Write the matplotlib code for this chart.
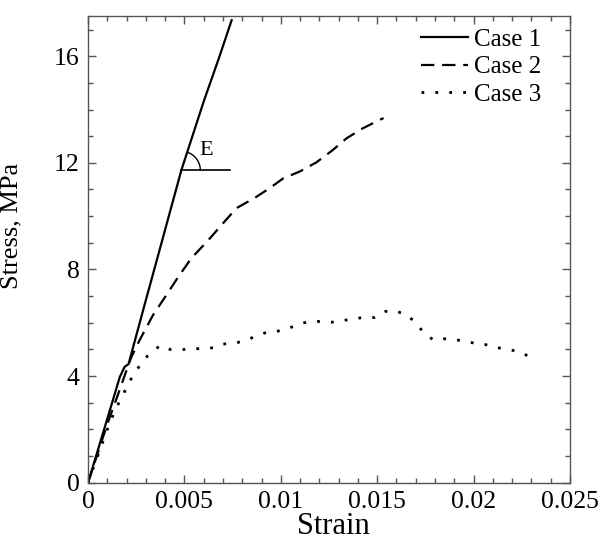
import numpy as np
import matplotlib
matplotlib.use('Agg')
import matplotlib.pyplot as plt
from matplotlib.ticker import MultipleLocator, FuncFormatter

plt.rcParams['font.family'] = ['Liberation Serif', 'DejaVu Serif']

# Data
case1_x = [0, 0.0005, 0.0010, 0.00165, 0.0019, 0.0021, 0.0030, 0.0037,
           0.00484, 0.0060, 0.0068, 0.00745]
case1_y = [0, 1.2, 2.4, 3.97, 4.35, 4.45, 6.85, 8.7, 11.72, 14.3, 15.95, 17.35]

case2_x = [0, 0.0005, 0.0010, 0.0015, 0.00187, 0.00224, 0.0026, 0.00286, 0.00338,
           0.0040, 0.00468, 0.00537, 0.00624, 0.0070, 0.0077, 0.00868, 0.0094,
           0.01013, 0.0110, 0.01185, 0.01268, 0.01341, 0.01424, 0.01507, 0.01533]
case2_y = [0, 1.1, 2.2, 3.2, 3.96, 4.7, 5.24, 5.6, 6.3, 6.97, 7.72, 8.43, 9.1,
           9.73, 10.3, 10.7, 11.04, 11.42, 11.68, 12.02, 12.47, 12.92, 13.29,
           13.59, 13.68]

case3_x = [0, 0.0005, 0.0010, 0.00146, 0.00177, 0.00203, 0.00234, 0.00275, 0.0031,
           0.00374, 0.00426, 0.00483, 0.0054, 0.0060, 0.0065, 0.0070, 0.00764,
           0.00816, 0.0087, 0.0093, 0.0098, 0.0104, 0.0110, 0.01154, 0.0121,
           0.01263, 0.0132, 0.01377, 0.0143, 0.01487, 0.01544, 0.01596, 0.01653,
           0.01694, 0.01736, 0.01788, 0.01845, 0.01897, 0.01954, 0.02011, 0.02063,
           0.02120, 0.02178, 0.02235, 0.02287]
case3_y = [0, 1.0, 2.0, 2.82, 3.2, 3.65, 4.02, 4.47, 4.77, 5.15, 5.0, 5.0, 5.0,
           5.06, 5.06, 5.2, 5.24, 5.33, 5.5, 5.65, 5.68, 5.79, 5.97, 6.05, 6.05,
           6.02, 6.08, 6.15, 6.2, 6.2, 6.43, 6.44, 6.3, 6.04, 5.68, 5.37, 5.4,
           5.38, 5.3, 5.23, 5.18, 5.07, 5.0, 4.92, 4.74]

labels = ['Case 1', 'Case 2', 'Case 3']

# modulus marker
E_x0, E_x1, E_y = 0.00484, 0.00736, 11.72

fig = plt.figure(figsize=(6, 5.4), dpi=100)
ax = fig.add_axes([0.1467, 0.106, 0.8033, 0.864])

ax.plot(case1_x, case1_y, color='black', lw=1.6, label=labels[0])
ax.plot(case2_x, case2_y, color='black', lw=1.6, dashes=(6, 3.5), label=labels[1])
ax.plot(case3_x, case3_y, color='black', lw=2.0, dashes=(1, 4), label=labels[2])

xmin, xmax, ymin, ymax = 0, 0.025, 0, 17.5
ax.set_xlim(xmin, xmax)
ax.set_ylim(ymin, ymax)

# E annotation: horizontal line, arc, letter
ax.plot([E_x0, E_x1], [E_y, E_y], color='black', lw=1.2)
ax_w = 0.8033 * 600
ax_h = 0.864 * 540
px_x = ax_w / (xmax - xmin)
px_y = ax_h / (ymax - ymin)
r = 19
ang = np.degrees(np.arctan2((case1_y[-1] - E_y) * px_y, (case1_x[-1] - E_x0) * px_x))
t = np.radians(np.linspace(0, ang, 40))
ax.plot(E_x0 + r / px_x * np.cos(t), E_y + r / px_y * np.sin(t), color='black', lw=1.0)
ax.text(0.00614, 12.45, 'E', fontsize=16, ha='center', va='center')

ax.xaxis.set_major_locator(MultipleLocator(0.005))
ax.xaxis.set_minor_locator(MultipleLocator(0.001))
ax.yaxis.set_major_locator(MultipleLocator(4))
ax.yaxis.set_minor_locator(MultipleLocator(1))
ax.xaxis.set_major_formatter(FuncFormatter(lambda v, p: '0' if v == 0 else ('%.3f' % v).rstrip('0')))

spine_col = '#555555'
for s in ax.spines.values():
    s.set_color(spine_col)
    s.set_linewidth(1.0)
ax.tick_params(which='both', direction='in', top=True, right=True, color=spine_col,
               labelsize=18.5, pad=6)
ax.tick_params(which='major', length=6, width=1.0)
ax.tick_params(which='minor', length=3.5, width=1.0)

ax.set_xlabel('Strain', fontsize=22)
ax.xaxis.set_label_coords(0.51, -0.062)
ax.set_ylabel('Stress, MPa', fontsize=19)
ax.yaxis.set_label_coords(-0.135, 0.55)

ax.legend(loc='upper left', bbox_to_anchor=(0.69, 0.974), frameon=False,
          fontsize=18, handlelength=1.9, handletextpad=0.22, labelspacing=0.2,
          borderpad=0, borderaxespad=0)

fig.savefig('out.png', dpi=100)
